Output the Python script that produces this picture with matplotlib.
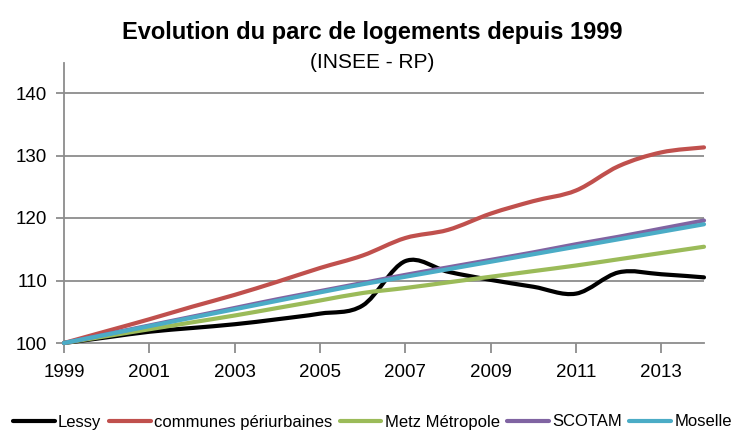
import numpy as np
import matplotlib
matplotlib.use('Agg')
import matplotlib.pyplot as plt
from matplotlib.path import Path
from matplotlib.patches import PathPatch
from matplotlib.lines import Line2D

plt.rcParams['font.family'] = ['Liberation Sans', 'DejaVu Sans']

# indices base 100 en 1999
years = list(range(1999, 2015))
lessy = [100, 100.9, 101.8, 102.4, 103.0, 103.8, 104.7, 106.0,
         113.1, 111.4, 110.1, 109.0, 107.9, 111.3, 111.0, 110.5]
periurbaines = [100, 101.9, 103.8, 105.8, 107.7, 109.8, 112.0, 114.0,
                116.8, 118.1, 120.7, 122.7, 124.4, 128.3, 130.5, 131.3]
metz = [100, 101.1, 102.2, 103.3, 104.4, 105.6, 106.8, 108.0,
        108.8, 109.7, 110.6, 111.5, 112.4, 113.4, 114.4, 115.4]
scotam = [100, 101.4, 102.8, 104.2, 105.6, 107.0, 108.3, 109.6,
          110.9, 112.1, 113.3, 114.5, 115.8, 117.0, 118.3, 119.6]
moselle = [100, 101.35, 102.7, 104.05, 105.4, 106.75, 108.1, 109.4,
           110.6, 111.8, 113.0, 114.2, 115.4, 116.6, 117.8, 119.0]

series = [
    ('Lessy', lessy, 'black'),
    ('communes périurbaines', periurbaines, '#C0504D'),
    ('Metz Métropole', metz, '#9BBB59'),
    ('SCOTAM', scotam, '#8064A2'),
    ('Moselle', moselle, '#4BACC6'),
]
xticks = list(range(1999, 2014, 2))
yticks = [100, 110, 120, 130, 140]


def smooth_path(x, y):
    # courbe lissée façon Excel (Bezier Catmull-Rom)
    pts = np.column_stack([x, y]).astype(float)
    n = len(pts)
    verts = [pts[0]]
    codes = [Path.MOVETO]
    for i in range(n - 1):
        p0 = pts[max(i - 1, 0)]
        p1 = pts[i]
        p2 = pts[i + 1]
        p3 = pts[min(i + 2, n - 1)]
        verts += [p1 + (p2 - p0) / 6, p2 - (p3 - p1) / 6, p2]
        codes += [Path.CURVE4] * 3
    return Path(verts, codes)


fig = plt.figure(figsize=(7.45, 4.32), dpi=100)
ax = fig.add_axes([64 / 745, 1 - 343 / 432, 640 / 745, 280 / 432])

grey = '#8c8c8c'
for y in yticks[1:]:
    ax.axhline(y, color=grey, lw=1.3, zorder=1)

handles = []
for name, vals, col in series:
    patch = PathPatch(smooth_path(years, vals), facecolor='none', edgecolor=col,
                      lw=3.0, capstyle='round', joinstyle='round', zorder=3,
                      clip_on=False)
    ax.add_patch(patch)
    handles.append(Line2D([], [], color=col, lw=3.0, solid_capstyle='round'))

ax.set_xlim(1999, 2014)
ax.set_ylim(100, 144.8)
ax.set_xticks(xticks)
ax.set_yticks(yticks)
ax.tick_params(axis='x', direction='out', length=7, width=1.3, color=grey,
               labelsize=13.5, pad=8)
ax.tick_params(axis='y', direction='out', length=6, width=1.3, color=grey,
               labelsize=13.5, pad=6)
for side in ['top', 'right']:
    ax.spines[side].set_visible(False)
for side in ['left', 'bottom']:
    ax.spines[side].set_color(grey)
    ax.spines[side].set_linewidth(1.3)

fig.text(0.5, 1 - 33 / 432, 'Evolution du parc de logements depuis 1999',
         ha='center', va='center', fontsize=17, weight='bold')
fig.text(0.5, 1 - 62 / 432, '(INSEE - RP)', ha='center', va='center',
         fontsize=15)

fig.legend(handles, [s[0] for s in series], loc='center',
           bbox_to_anchor=(0.5, 1 - 422 / 432), ncol=5, frameon=False,
           handlelength=2.5, handletextpad=0.2, columnspacing=0.45,
           fontsize=12, borderaxespad=0, borderpad=0)

fig.savefig('out.png', dpi=100)
